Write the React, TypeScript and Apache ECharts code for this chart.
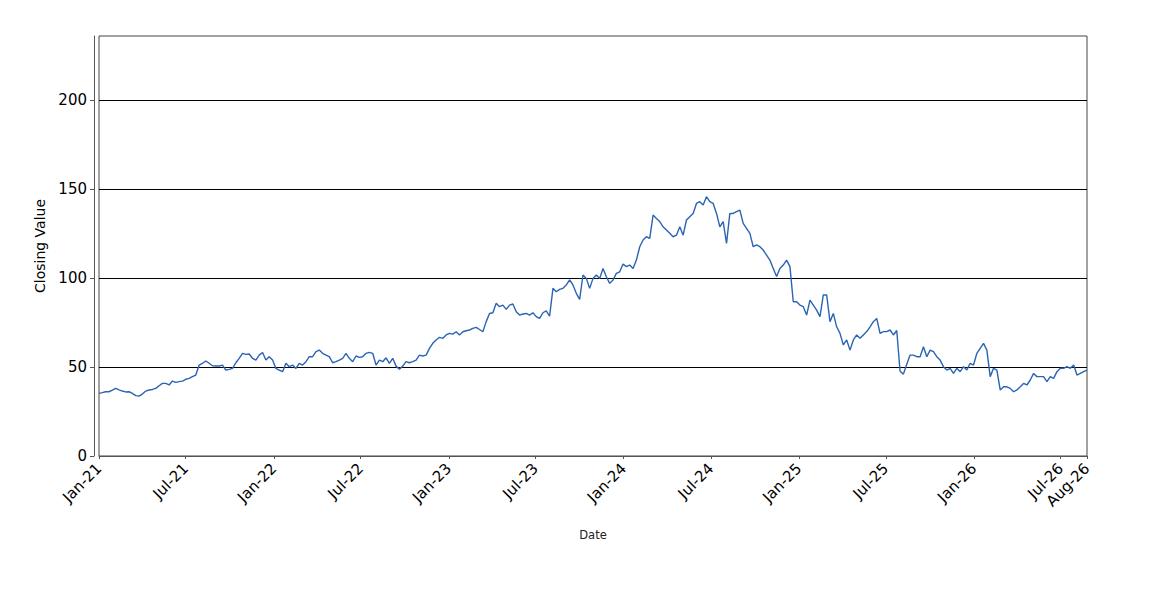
import { useEffect, useRef } from "react";
import * as echarts from "echarts";

// Axis extent and tick labels
const START = "2021-01-01";
const END = "2026-08-25";
const tickDates = [
  "2021-01-01", "2021-07-01", "2022-01-01", "2022-07-01", "2023-01-01", "2023-07-01",
  "2024-01-01", "2024-07-01", "2025-01-01", "2025-07-01", "2026-01-01", "2026-07-01",
];
const MONTHS = ["Jan", "Feb", "Mar", "Apr", "May", "Jun", "Jul", "Aug", "Sep", "Oct", "Nov", "Dec"];
const yTicks = [0, 50, 100, 150, 200];

// Weekly closing values
const closing2021to2022 = [
  35.2, 35.6, 36.1, 36.1, 37.0, 38.0, 37.2, 36.5, 36.0, 36.1,
  35.2, 33.9, 33.7, 34.8, 36.5, 37.1, 37.4, 38.0, 39.5, 40.8,
  40.8, 39.9, 42.1, 41.4, 41.8, 42.1, 43.1, 43.6, 44.6, 45.5,
  51.1, 52.1, 53.4, 52.1, 50.7, 50.6, 50.6, 51.1, 48.3, 48.7,
  49.2, 52.4, 54.9, 57.7, 57.1, 57.3, 54.9, 53.9, 56.7, 58.2,
  53.9, 55.8, 53.9, 49.2, 48.3, 47.4, 52.1, 50.2, 51.1, 49.2,
  52.1, 51.1, 53.0, 55.8, 55.8, 58.6, 59.5, 57.7, 56.7, 55.8,
  52.4, 53.0, 53.9, 54.9, 57.7, 54.9, 53.0, 56.2, 55.4, 55.8,
  57.7, 58.2, 57.7, 51.1, 53.9, 53.0, 55.2, 52.1,
];
const closing2022to2024 = [
  54.9, 50.5, 48.7, 50.5, 53.0, 52.4, 53.0, 53.9, 56.7, 56.2,
  56.7, 60.5, 63.3, 65.2, 66.7, 66.1, 68.0, 68.9, 68.5, 69.8,
  68.0, 69.8, 70.4, 70.8, 71.7, 72.3, 71.1, 69.8, 75.5, 80.1,
  80.5, 85.8, 83.9, 84.8, 82.4, 84.8, 85.4, 81.1, 79.2, 79.8,
  80.1, 79.2, 80.5, 78.3, 77.3, 80.5, 81.6, 78.6, 94.2, 92.3,
  93.6, 94.2, 96.1, 98.9, 96.1, 91.4, 88.0, 101.7, 99.8, 94.2,
  99.8, 101.7, 99.8, 105.4, 100.7, 97.0, 98.9, 102.6, 103.5, 107.9,
  106.4, 107.3,
];
const closing2024 = [
  105.4, 110.1, 117.6, 121.4, 123.2, 122.3, 135.4, 133.5, 131.7, 128.8,
  127.0, 125.1, 123.2, 124.1, 128.8, 124.1, 132.6, 134.5, 136.3, 141.9,
  142.9, 141.0, 145.7, 142.9, 141.9, 136.3, 128.8, 131.7, 119.5, 136.3,
  136.3, 137.3, 138.2, 130.7, 127.9, 125.1, 117.6, 118.6, 117.6, 115.7,
  112.9, 110.1, 105.4, 100.8, 105.4, 107.3, 110.1, 106.4,
];
const closing2025to2026 = [
  86.7, 86.7, 84.8, 83.9, 79.2, 87.6, 84.8, 82.0, 78.3, 90.5,
  90.5, 75.5, 80.1, 72.6, 68.9, 62.4, 65.2, 59.5, 65.2, 68.0,
  66.1, 68.0, 69.9, 72.6, 75.5, 77.3, 68.9, 69.9, 69.9, 70.8,
  68.0, 70.5, 47.6, 46.0, 51.6, 56.7, 56.7, 55.8, 55.8, 61.4,
  55.8, 59.5, 58.6, 55.8, 53.9, 50.2, 48.3, 49.3, 46.4, 49.3,
  47.4, 50.2, 48.3, 52.1, 51.1, 57.7, 60.5, 63.3, 59.5, 44.6,
  49.3, 48.3, 37.1, 38.9, 38.9, 38.0, 36.1, 37.1, 38.9, 40.8,
  39.9, 42.7, 46.4, 44.6, 44.6, 44.6, 41.8, 44.6, 43.6, 47.4,
  49.3, 49.3, 50.2, 49.3, 51.1, 45.5, 46.4, 47.4, 48.3,
];

const utc = (s: string) => Date.parse(s + "T00:00:00Z");

export default function App() {
  const ref = useRef<HTMLDivElement>(null);
  useEffect(() => {
    document.body.style.margin = "0";
    if (!ref.current) return;
    const chart = echarts.init(ref.current, undefined, { renderer: "svg" });
    const closing = [...closing2021to2022, ...closing2022to2024, ...closing2024, ...closing2025to2026];
    const t0 = utc(START);
    const t1 = utc(END);
    const step = (t1 - t0) / (closing.length - 1);
    const data = closing.map((v, i) => [t0 + i * step, v]);
    const xLabelValues = [...tickDates.map(utc), t1];
    const fmt = (val: number) => {
      const d = new Date(val);
      return `${MONTHS[d.getUTCMonth()]}-${String(d.getUTCFullYear() % 100).padStart(2, "0")}`;
    };
    chart.setOption({
      animation: false,
      backgroundColor: "#fff",
      textStyle: { fontFamily: "DejaVu Sans" },
      grid: {
        left: 99,
        right: 63,
        top: 36,
        bottom: 144,
        show: true,
        borderColor: "#444",
        borderWidth: 1,
        backgroundColor: "transparent",
      },
      xAxis: {
        type: "value",
        min: t0,
        max: t1,
        offset: 5,
        name: "Date",
        nameLocation: "middle",
        nameGap: 68,
        nameTextStyle: { fontSize: 11.5, color: "#222", fontFamily: "DejaVu Sans" },
        axisLine: { show: true, lineStyle: { color: "#555", width: 1 } },
        axisTick: { show: true, length: 3, customValues: xLabelValues, lineStyle: { color: "#555" } },
        axisLabel: {
          customValues: xLabelValues,
          rotate: 45,
          fontSize: 15,
          color: "#000",
          margin: 5,
          hideOverlap: false,
          formatter: (v: number) => fmt(v),
        },
        splitLine: { show: false },
      },
      yAxis: {
        type: "value",
        min: 0,
        max: 236,
        interval: 50,
        offset: 5,
        name: "Closing Value",
        nameLocation: "middle",
        nameGap: 38,
        nameTextStyle: { fontSize: 14, color: "#000", fontFamily: "DejaVu Sans" },
        axisLine: { show: true, lineStyle: { color: "#555", width: 1 } },
        axisTick: { show: true, length: 4, customValues: yTicks, lineStyle: { color: "#555" } },
        axisLabel: { customValues: yTicks, fontSize: 15, color: "#000", margin: 7 },
        splitLine: { show: true, lineStyle: { color: "#000", width: 1 } },
      },
      series: [
        {
          type: "line",
          data,
          showSymbol: false,
          symbol: "none",
          lineStyle: { color: "#2a64b2", width: 1.4 },
        },
      ],
    });
    return () => chart.dispose();
  }, []);
  return <div ref={ref} style={{ width: 1150, height: 600 }} />;
}
